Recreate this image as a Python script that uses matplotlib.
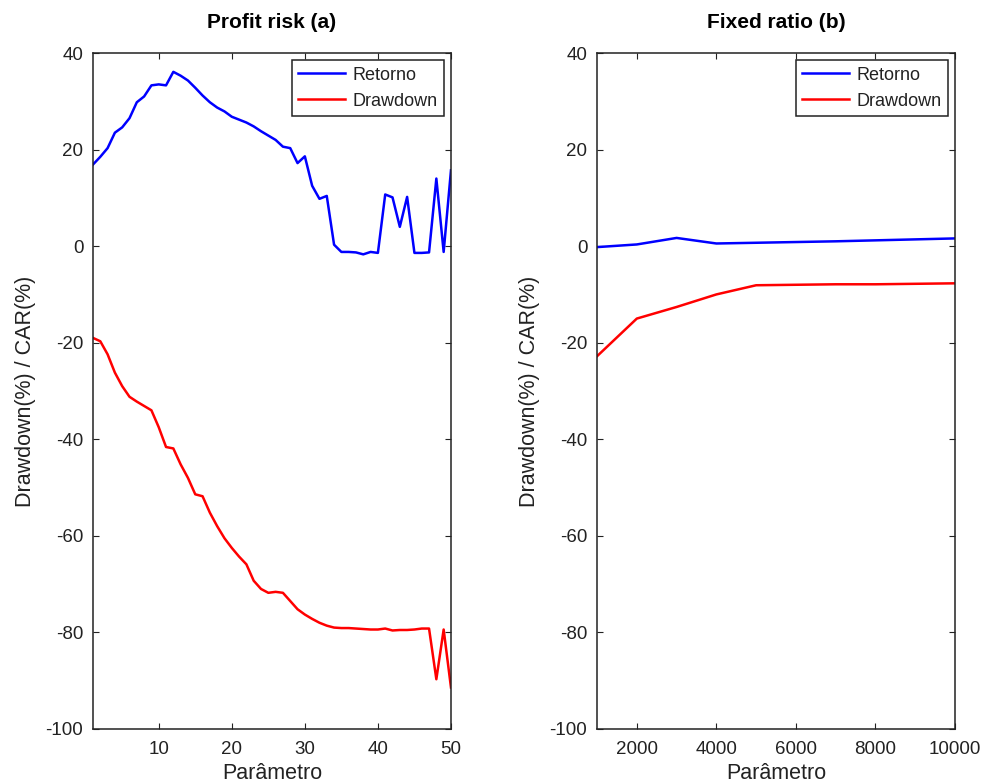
import matplotlib
matplotlib.use("Agg")
import matplotlib.pyplot as plt

plt.rcParams['font.family'] = ['Liberation Sans', 'DejaVu Sans']
plt.rcParams['axes.unicode_minus'] = False

# Panel (a): Profit risk
param_a = list(range(1, 51))
retorno_a = [16.9, 18.5, 20.3, 23.5, 24.6, 26.5, 29.8, 31.0, 33.3, 33.5,
             33.3, 36.1, 35.3, 34.3, 32.8, 31.2, 29.8, 28.7, 27.9, 26.8,
             26.2, 25.6, 24.8, 23.8, 22.9, 22.0, 20.6, 20.3, 17.2, 18.6,
             12.5, 9.8, 10.4, 0.3, -1.2, -1.2, -1.3, -1.7, -1.2, -1.4,
             10.7, 10.1, 4.0, 10.2, -1.4, -1.4, -1.3, 14.0, -1.2, 15.7]
drawdown_a = [-19.0, -19.7, -22.4, -26.2, -29.0, -31.2, -32.2, -33.1, -34.0, -37.5,
              -41.6, -41.9, -45.2, -48.0, -51.4, -51.8, -55.2, -58.0, -60.5, -62.5,
              -64.3, -65.9, -69.3, -71.0, -71.8, -71.6, -71.8, -73.5, -75.2, -76.3,
              -77.2, -78.0, -78.6, -79.0, -79.1, -79.1, -79.2, -79.3, -79.4, -79.4,
              -79.2, -79.6, -79.5, -79.5, -79.4, -79.2, -79.2, -89.7, -79.4, -91.4]

# Panel (b): Fixed ratio
param_b = [1000, 2000, 3000, 4000, 5000, 6000, 7000, 8000, 9000, 10000]
retorno_b = [-0.2, 0.35, 1.7, 0.55, 0.7, 0.85, 1.0, 1.2, 1.4, 1.6]
drawdown_b = [-22.8, -15.0, -12.6, -10.0, -8.1, -8.0, -7.9, -7.9, -7.8, -7.7]

titles = ["Profit risk (a)", "Fixed ratio (b)"]
xticks_a = [10, 20, 30, 40, 50]
xticks_b = [2000, 4000, 6000, 8000, 10000]
yticks = [-100, -80, -60, -40, -20, 0, 20, 40]

fig = plt.figure(figsize=(9.87, 7.83), dpi=100)
ax1 = fig.add_axes([0.0942, 0.0690, 0.3627, 0.8633])
ax2 = fig.add_axes([0.6049, 0.0690, 0.3627, 0.8633])

panels = [
    (ax1, param_a, retorno_a, drawdown_a, (1, 50), xticks_a, titles[0]),
    (ax2, param_b, retorno_b, drawdown_b, (1000, 10000), xticks_b, titles[1]),
]
for ax, x, r, d, xl, xt, t in panels:
    ax.plot(x, r, color=(0, 0, 1), lw=1.8, label="Retorno")
    ax.plot(x, d, color=(1, 0, 0), lw=1.8, label="Drawdown")
    ax.set_xlim(*xl)
    ax.set_ylim(-100, 40)
    ax.set_xticks(xt)
    ax.set_yticks(yticks)
    ax.tick_params(direction='in', top=True, right=True, labelsize=13.5, length=4.5,
                   colors='#222222', labelcolor='#222222')
    ax.tick_params(axis='x', pad=9)
    ax.tick_params(axis='y', pad=7)
    for s in ax.spines.values():
        s.set_linewidth(1.1)
        s.set_color('#222222')
    ax.set_title(t, fontsize=15, fontweight='bold', pad=18)
    ax.set_xlabel("Parâmetro", fontsize=15.5, labelpad=3, color='#222222')
    ax.set_ylabel("Drawdown(%) / CAR(%)", fontsize=15.5, labelpad=7, color='#222222')
    leg = ax.legend(loc='upper right', fontsize=13, fancybox=False, framealpha=1,
                    edgecolor='#222222', borderaxespad=0.4, handlelength=2.6,
                    handletextpad=0.4, borderpad=0.35, labelspacing=0.5)
    leg.get_frame().set_linewidth(1.1)
    for txt in leg.get_texts():
        txt.set_color('#222222')

fig.savefig("out.png", dpi=100)
